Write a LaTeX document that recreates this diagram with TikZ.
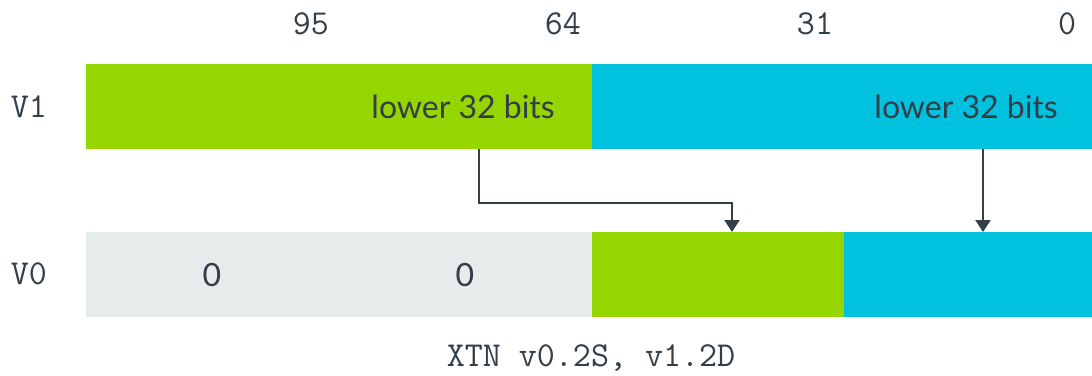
\documentclass[tikz,border=0pt]{standalone}
\usepackage{fontspec}
\setmainfont{Lato}
\usepackage{tikz}
\usetikzlibrary{arrows.meta,positioning}
\definecolor{armgreen}{HTML}{95D600}
\definecolor{armblue}{HTML}{00C1DE}
\definecolor{armlight}{HTML}{E5ECEB}
\definecolor{armdark}{HTML}{333E48}
\tikzset{
  lane/.style={rectangle,inner sep=0pt,outer sep=0pt,minimum height=85,anchor=north west},
  bitno/.style={inner sep=0pt,text=armdark,font=\ttfamily\fontsize{35}{40}\selectfont},
  regname/.style={inner sep=0pt,text=armdark,font=\ttfamily\fontsize{35}{40}\selectfont},
  lanetxt/.style={inner sep=0pt,text=armdark,font=\fontsize{32}{38}\selectfont},
  arr/.style={draw=armdark,line width=2pt,line join=miter,-{Triangle[length=12pt,width=15pt]}}
}
\begin{document}
\begin{tikzpicture}
    [x=1pt,y=-1pt]
\useasboundingbox (0,0) rectangle (1092,375);
%register V1
\node[lane,fill=armgreen,minimum width=506] (v1hi) at (86,64) {};
\node[lane,fill=armblue,minimum width=500] (v1lo) at (592,64) {};
%register V0
\node[lane,fill=armlight,minimum width=506] (v0hi) at (86,232) {};
\node[lane,fill=armgreen,minimum width=252] (v0mid) at (592,232) {};
\node[lane,fill=armblue,minimum width=248] (v0lo) at (844,232) {};

%bit numbers
\node[bitno] (b95) at (311,24) {95};
\node[bitno] (b64) at (563,24) {64};
\node[bitno] (b31) at (815,24) {31};
\node[bitno] (b0) at (1067,24) {0};

%register names
\node[regname] (nv1) at (29,107) {V1};
\node[regname] (nv0) at (29,274) {V0};

%lane contents
\node[lanetxt,anchor=east] (t1) at ([xshift=-37]v1hi.east) {lower 32 bits};
\node[lanetxt,anchor=east] (t2) at ([xshift=-34]v1lo.east) {lower 32 bits};
\node[lanetxt] (z1) at (212,275) {0};
\node[lanetxt] (z2) at (465,275) {0};

%moves
\coordinate (tap1) at (479,149);
\coordinate (tap2) at (983,149);
\draw[arr] (tap1) -- ++(0,54) -| ([xshift=14]v0mid.north);
\draw[arr] (tap2) -- (tap2 |- v0lo.north);

\node[bitno] (cap) at (591,358) {XTN v0.2S, v1.2D};
\end{tikzpicture}
\end{document}
